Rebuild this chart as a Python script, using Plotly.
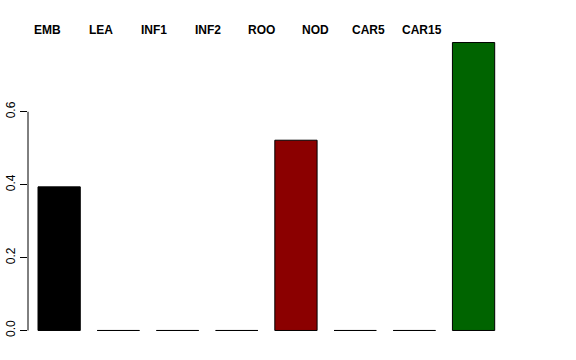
import plotly.graph_objects as go

categories = ["EMB", "LEA", "INF1", "INF2", "ROO", "NOD", "CAR5", "CAR15"]
values = [0.394, 0.0, 0.0, 0.0, 0.522, 0.0, 0.0, 0.790]
colors = ["#000000", "#FF0000", "#00CD00", "#0000FF", "#8B0000", "#FFA500", "#800080", "#006400"]
ytick_vals = [0.0, 0.2, 0.4, 0.6]
ytick_text = ["0.0", "0.2", "0.4", "0.6"]

W, H = 576, 360
ml, mr, mt, mb = 28, 72, 31, 17.5
xpos = list(range(len(categories)))

fig = go.Figure()
fig.add_trace(go.Bar(
    x=xpos, y=values,
    marker=dict(color=colors, line=dict(color="#000000", width=1)),
    width=0.714,
    hoverinfo="skip",
))

# axis line from first to last tick (R style)
fig.add_shape(type="line", xref="paper", yref="y",
              x0=0, x1=0, y0=ytick_vals[0], y1=ytick_vals[-1],
              line=dict(color="#000000", width=1))

# category labels along the top
plot_w = W - ml - mr
for i, c in enumerate(categories):
    px = 47 + 53.6 * i
    fig.add_annotation(x=(px - ml) / plot_w, y=(H - mb - 30) / (H - mt - mb),
                       xref="paper", yref="paper", text="<b>%s</b>" % c,
                       showarrow=False, xanchor="center", yanchor="middle",
                       font=dict(family="Liberation Sans, Arial", size=12, color="#000000"))

fig.update_layout(
    template="none",
    width=W, height=H,
    margin=dict(l=ml, r=mr, t=mt, b=mb, pad=0, autoexpand=False),
    paper_bgcolor="white", plot_bgcolor="white",
    showlegend=False,
    xaxis=dict(range=[-0.526, 7.514], showgrid=False, zeroline=False,
               showticklabels=False, ticks="", showline=False, automargin=False),
    yaxis=dict(range=[-0.0316, 0.8216], showgrid=False, zeroline=False,
               tickvals=ytick_vals, ticktext=ytick_text, ticks="outside",
               ticklen=7, tickwidth=1, tickcolor="#000000", tickangle=-90,
               showline=False, automargin=False,
               tickfont=dict(family="Liberation Sans, Arial", size=12, color="#000000")),
)

fig.write_html("out.html")
